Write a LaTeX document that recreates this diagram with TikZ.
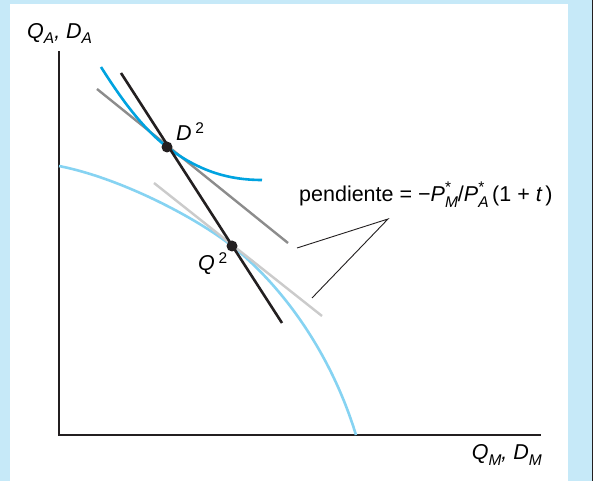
\documentclass[tikz,border=0pt]{standalone}
\usepackage{fontspec}
\setmainfont{Liberation Sans}
\definecolor{bgblue}{HTML}{C6E9F8}
\definecolor{axisc}{HTML}{231F20}
\definecolor{icblue}{HTML}{00A3E0}
\definecolor{ppfblue}{HTML}{86D3F2}
\definecolor{midgray}{HTML}{8C8C8C}
\definecolor{lightgray}{HTML}{CBCBCB}
\newcommand{\mysub}[1]{\raisebox{-0.45ex}{\fontsize{15.5}{15.5}\selectfont\itshape #1}}
\newcommand{\mysup}[1]{\,\raisebox{0.7ex}{\fontsize{15.5}{15.5}\selectfont #1}}
\newcommand{\Pstar}[1]{{\itshape P}\makebox[0pt][l]{\raisebox{0.8ex}{\fontsize{15.5}{15.5}\selectfont *}}\raisebox{-0.45ex}{\fontsize{15.5}{15.5}\selectfont\itshape #1}}
\begin{document}
\begin{tikzpicture}[x=1pt,y=-1pt,
  axis/.style={draw=axisc, line width=2pt},
  ppf/.style={draw=ppfblue, line width=2.6pt},
  iccurve/.style={draw=icblue, line width=2.6pt},
  grayline/.style={draw=midgray, line width=2.4pt},
  lgrayline/.style={draw=lightgray, line width=2.4pt},
  blackline/.style={draw=axisc, line width=2.6pt},
  leader/.style={draw=axisc, line width=0.9pt},
  dot/.style={circle, fill=axisc, inner sep=0pt, minimum size=11pt},
  lbl/.style={inner sep=0pt, font=\fontsize{21.5}{25}\selectfont}]
\useasboundingbox (0,0) rectangle (598,481);
% background panels
\fill[white] (0,0) rectangle (598,481);
\fill[bgblue] (0,0) rectangle (592,481);
\fill[white] (10,4) rectangle (568,481);
\draw[axisc, line width=1.6pt] (592.6,0) -- (592.6,481);
% axes
\coordinate (ytop) at (59,52);
\coordinate (orig) at (59,435);
\coordinate (xend) at (540,435);
\draw[axis, line cap=rect] (ytop) -- (orig) -- (xend);
% production possibility frontier
\coordinate (p0) at (59,166);
\coordinate (p3) at (356,435);
% points
\coordinate (Dc) at (167,147);
\coordinate (Qc) at (232,246);
\draw[ppf] (p0) .. controls (120,178) and (195,217) .. (Qc)
                 .. controls (280,284) and (330,350) .. (p3);
% light gray price line (world prices)
\coordinate (lg1) at (154,183);
\coordinate (lg2) at (322,316);
\draw[lgrayline] (lg1) -- (lg2);
% gray price line
\coordinate (g1) at (97,89);
\coordinate (g2) at (288,243);
\draw[grayline] (g1) -- (g2);
% indifference curve
\coordinate (ic0) at (101,67);
\coordinate (ic1) at (262,180);
\draw[iccurve] (ic0) .. controls (125,105) and (145,130) .. (Dc)
                 .. controls (200,172) and (230,180) .. (ic1);
% black line
\coordinate (bk1) at (121,73);
\coordinate (bk2) at (282,323);
\draw[blackline] (bk1) -- (bk2);
% dots
\node[dot] (D2) at (Dc) {};
\node[dot] (Q2) at (Qc) {};
% labels
\node[lbl, anchor=base west] (D2lbl) at (176,141) {{\itshape D}\mysup{2}};
\node[lbl, anchor=base west] (Q2lbl) at (198,271) {{\itshape Q}\mysup{2}};
\node[lbl, anchor=base west] (ylbl) at (27,38.5) {{\itshape Q}\mysub{A}{\itshape ,} {\itshape D}\mysub{A}};
\node[lbl, anchor=base east] (xlbl) at (542,460) {{\itshape Q}\mysub{M}{\itshape ,} {\itshape D}\mysub{M}};
\node[lbl, anchor=base west] (slope) at (299,202) {pendiente = −\Pstar{M}/\Pstar{A}\,(1 + {\itshape t}\,)};
% leaders
\coordinate (apex) at (388,219);
\coordinate (la) at (297,248);
\coordinate (lb) at (312,298);
\draw[leader] (la) -- (apex) -- (lb);
\end{tikzpicture}
\end{document}
